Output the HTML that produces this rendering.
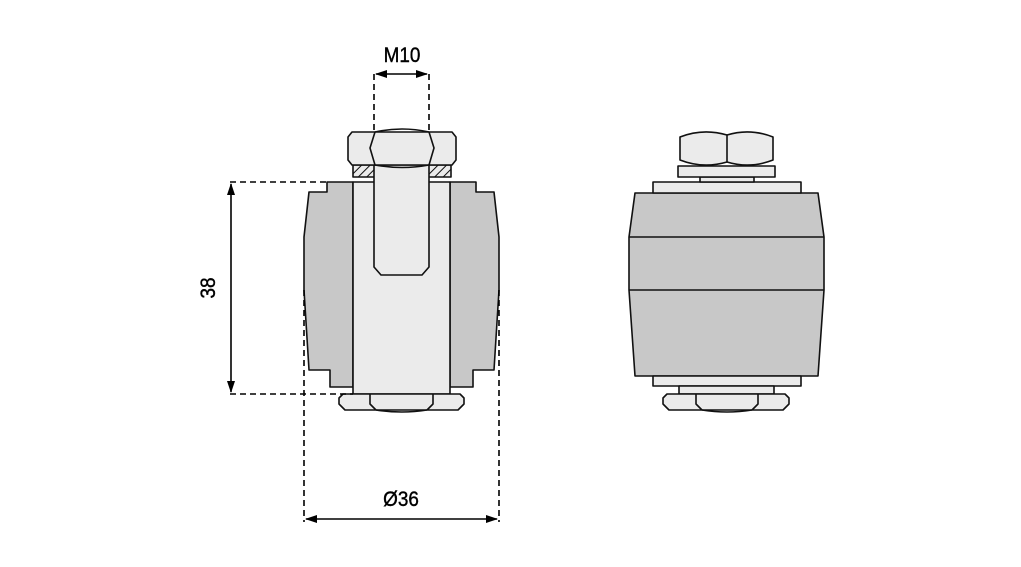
<!DOCTYPE html>
<html><head><style>html,body{margin:0;padding:0;background:#fff}svg{display:block}</style></head>
<body>
<svg width="1021" height="567" viewBox="0 0 1021 567" xmlns="http://www.w3.org/2000/svg">
<defs>
<marker id="a" markerWidth="12" markerHeight="8" refX="11" refY="4" orient="auto-start-reverse" markerUnits="userSpaceOnUse"><path d="M0,0 L12,4 L0,8 Z" fill="#000"/></marker>
<pattern id="h" width="6" height="6" patternUnits="userSpaceOnUse" patternTransform="rotate(45)"><rect width="6" height="6" fill="#ebebeb"/><line x1="0" y1="0" x2="0" y2="6" stroke="#111" stroke-width="2"/></pattern>
</defs>
<g stroke="#111" stroke-width="1.6" stroke-linejoin="round">
<!-- LEFT VIEW -->
<path d="M327,182 L353,182 L353,387 L330,387 L330,370 L309,370 L304,290 L304,237 L309,192 L327,192 Z" fill="#c8c8c8"/>
<path d="M476,182 L450,182 L450,387 L473,387 L473,370 L494,370 L499,290 L499,237 L494,192 L476,192 Z" fill="#c8c8c8"/>
<rect x="353" y="182" width="97" height="212" fill="#ebebeb"/>
<rect x="353" y="165" width="98" height="12" fill="url(#h)"/>
<path d="M374,165 L429,165 L429,267 L422,275 L381,275 L374,267 Z" fill="#ebebeb"/>
<path d="M352,132 L452,132 L456,137 L456,160 L452,165 L352,165 L348,160 L348,137 Z" fill="#ebebeb"/>
<path d="M375,132 Q402,126 429,132 M375,165 Q402,170 429,165 M375,132 L370,148 L375,165 M429,132 L434,148 L429,165" fill="none"/>
<path d="M343,394 L460,394 L464,398 L464,404 L458,410 L345,410 L339,404 L339,398 Z" fill="#ebebeb"/>
<path d="M370,394 L370,404 L376,410 M433,394 L433,404 L427,410 M376,410 Q402,414 427,410" fill="none"/>
<!-- RIGHT VIEW -->
<path d="M635,193 L818,193 L824,237 L824,290 L818,376 L635,376 L629,290 L629,237 Z" fill="#c8c8c8"/>
<path d="M629,237 L824,237 M629,290 L824,290" fill="none"/>
<rect x="653" y="182" width="148" height="11" fill="#ebebeb"/>
<rect x="700" y="177" width="54" height="5" fill="#ebebeb"/>
<rect x="678" y="166" width="97" height="11" fill="#ebebeb"/>
<path d="M680,137 Q703,128 727,135 Q750,128 773,137 L773,160 Q750,169 727,162 Q703,169 680,160 Z" fill="#ebebeb"/>
<path d="M727,135 L727,162" fill="none"/>
<rect x="653" y="376" width="148" height="10" fill="#ebebeb"/>
<rect x="679" y="386" width="95" height="8" fill="#ebebeb"/>
<path d="M667,394 L785,394 L789,398 L789,404 L783,410 L669,410 L663,404 L663,398 Z" fill="#ebebeb"/>
<path d="M696,394 L696,404 L702,410 M758,394 L758,404 L752,410 M702,410 Q727,414 752,410" fill="none"/>
</g>
<!-- DIMENSIONS -->
<g stroke="#000" stroke-width="1.6" fill="none">
<path d="M374,74 L374,132 M429,74 L429,132 M230,182 L327,182 M230,394 L353,394 M304,290 L304,522 M499,290 L499,522" stroke-dasharray="6,4"/>
<line x1="376" y1="74" x2="427" y2="74" marker-start="url(#a)" marker-end="url(#a)"/>
<line x1="231" y1="184" x2="231" y2="392" marker-start="url(#a)" marker-end="url(#a)"/>
<line x1="306" y1="519" x2="497" y2="519" marker-start="url(#a)" marker-end="url(#a)"/>
</g>
<g font-family="Liberation Sans, sans-serif" font-size="21" fill="#000" stroke="#000" stroke-width="0.4" text-anchor="middle">
<text x="402" y="62" transform="translate(402,0) scale(0.9,1) translate(-402,0)">M10</text>
<text x="401" y="506" transform="translate(401,0) scale(0.9,1) translate(-401,0)">Ø36</text>
<text x="0" y="0" transform="translate(215,288) rotate(-90) scale(0.9,1)">38</text>
</g>
</svg>
</body></html>
